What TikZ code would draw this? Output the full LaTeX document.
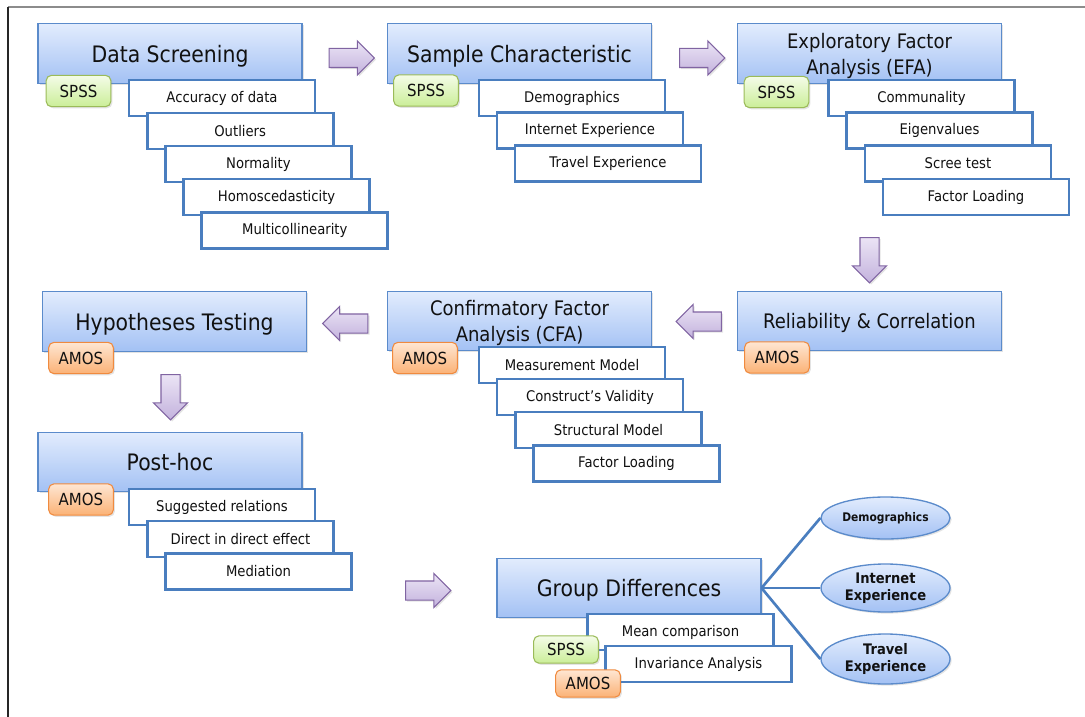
\documentclass[tikz,border=0pt]{standalone}
\usepackage{fontspec}
\setmainfont{DejaVu Sans}[FakeStretch=0.9]
\usetikzlibrary{shapes.geometric,shapes.arrows,shadows}

\definecolor{boxtop}{HTML}{E2ECFD}
\definecolor{boxbot}{HTML}{A3C1F4}
\definecolor{mainborder}{HTML}{5B8BCB}
\definecolor{subborder}{HTML}{4A7EBF}
\definecolor{spsstop}{HTML}{F4FCE8}
\definecolor{spssbot}{HTML}{CBEE98}
\definecolor{spssborder}{HTML}{9BBB59}
\definecolor{amostop}{HTML}{FEE6D2}
\definecolor{amosbot}{HTML}{FBB276}
\definecolor{amosborder}{HTML}{F08A3E}
\definecolor{arrowtop}{HTML}{EBE4F5}
\definecolor{arrowbot}{HTML}{C3B2DD}
\definecolor{arrowborder}{HTML}{8064A2}
\definecolor{textcol}{HTML}{111111}

\begin{document}
\begin{tikzpicture}[x=0.75pt,y=-0.75pt,
  softshadow/.style={drop shadow={opacity=0.22,shadow xshift=1.2pt,shadow yshift=-1.2pt}},
  mainbox/.style={rectangle,draw=mainborder,line width=0.8pt,top color=boxtop,bottom color=boxbot,
    minimum width=198pt,minimum height=44.5pt,inner sep=0pt,align=center,text=textcol,
    text depth=0pt,font=\fontsize{17}{20}\selectfont,softshadow},
  twoline/.style={font=\fontsize{15}{19.5}\selectfont},
  subbox/.style={rectangle,draw=subborder,line width=2pt,fill=white,
    minimum width=139.5pt,minimum height=27pt,inner sep=0pt,text=textcol,
    font=\fontsize{11}{13}\selectfont},
  tag/.style={rectangle,rounded corners=4pt,line width=0.8pt,minimum width=48.5pt,
    minimum height=23.5pt,inner sep=0pt,text=textcol,font=\fontsize{12.5}{14}\selectfont,softshadow},
  smalltag/.style={minimum height=20.5pt},
  spss/.style={tag,draw=spssborder,top color=spsstop,bottom color=spssbot},
  amos/.style={tag,draw=amosborder,top color=amostop,bottom color=amosbot},
  blockarrow/.style={single arrow,draw=arrowborder,line width=0.8pt,top color=arrowtop,
    bottom color=arrowbot,minimum height=34pt,inner xsep=0pt,inner ysep=6.75pt,
    single arrow head extend=5.6pt,single arrow tip angle=90,softshadow},
  downarrow/.style={blockarrow,shape border rotate=270,inner xsep=6.75pt,inner ysep=0pt},
  leftarrow/.style={blockarrow,shape border rotate=180},
  oval/.style={ellipse,draw=mainborder,line width=1pt,top color=boxtop,bottom color=boxbot,
    minimum width=96.75pt,inner sep=0pt,align=center,text=textcol,softshadow,
    font=\bfseries\fontsize{10.9}{13}\selectfont},
  link/.style={draw=subborder,line width=2pt}]

\useasboundingbox (0,0) rectangle (1085,717);

% page frame
\draw[black!45,line width=1pt] (8,7) -- (1085,7);
\draw[black!85,line width=1.4pt] (8,7) -- (8,717);

% ---- Data Screening
\node[mainbox] (ds) at (170,53.5) {Data Screening};
\node[spss] (dsT) at (78.5,91) {SPSS};
\node[subbox] (ds1) at (222,98) {Accuracy of data};
\node[subbox] (ds2) at (240.2,131) {Outliers};
\node[subbox] (ds3) at (258.4,164) {Normality};
\node[subbox] (ds4) at (276.6,197) {Homoscedasticity};
\node[subbox] (ds5) at (294.8,230.5) {Multicollinearity};

% ---- Sample Characteristic
\node[mainbox] (sc) at (519.5,53.5) {Sample Characteristic};
\node[spss] (scT) at (426,90.5) {SPSS};
\node[subbox] (sc1) at (572,98) {Demographics};
\node[subbox] (sc2) at (590,130.5) {Internet Experience};
\node[subbox] (sc3) at (608,163.5) {Travel Experience};

% ---- Exploratory Factor Analysis
\node[mainbox,twoline] (efa) at (869.5,53.5) {Exploratory Factor\\Analysis (EFA)};
\node[spss] (efaT) at (776.5,92) {SPSS};
\node[subbox] (efa1) at (921.5,98) {Communality};
\node[subbox] (efa2) at (939.5,130.5) {Eigenvalues};
\node[subbox] (efa3) at (958,163.5) {Scree test};
\node[subbox] (efa4) at (976,197) {Factor Loading};

% ---- Reliability & Correlation
\node[mainbox,twoline] (rel) at (869.5,321) {Reliability \& Correlation};
\node[amos] (relT) at (777,357.5) {AMOS};

% ---- Confirmatory Factor Analysis
\node[mainbox,twoline] (cfa) at (519.5,321) {Confirmatory Factor\\Analysis (CFA)};
\node[amos] (cfaT) at (425,358) {AMOS};
\node[subbox] (cfa1) at (572,365) {Measurement Model};
\node[subbox] (cfa2) at (590,397) {Construct’s Validity};
\node[subbox] (cfa3) at (608.5,430) {Structural Model};
\node[subbox] (cfa4) at (626.5,463.5) {Factor Loading};

% ---- Hypotheses Testing
\node[mainbox] (hyp) at (174.5,321.5) {Hypotheses Testing};
\node[amos] (hypT) at (81,358) {AMOS};

% ---- Post-hoc
\node[mainbox] (ph) at (170,462) {Post-hoc};
\node[amos] (phT) at (81,499.5) {AMOS};
\node[subbox] (ph1) at (222,507) {Suggested relations};
\node[subbox] (ph2) at (240.5,539) {Direct in direct effect};
\node[subbox] (ph3) at (258.5,571.5) {Mediation};

% ---- Group Differences
\node[mainbox] (gd) at (629,588) {Group Differences};
\node[subbox] (gd1) at (680.5,632) {Mean comparison};
\node[subbox] (gd2) at (698.5,664) {Invariance Analysis};
\node[spss,smalltag] (gdS) at (566,649.5) {SPSS};
\node[amos,smalltag] (gdA) at (588,683.5) {AMOS};

% groups compared
\node[oval,minimum height=31.5pt,font=\bfseries\fontsize{8.9}{11}\selectfont] (g1) at (885.5,518) {Demographics};
\node[oval,minimum height=36pt] (g2) at (885.5,588) {Internet\\Experience};
\node[oval,minimum height=37.5pt] (g3) at (885.5,659) {Travel\\Experience};
\draw[link] (gd.east) -- (g1.west);
\draw[link] (gd.east) -- (g2.west);
\draw[link] (gd.east) -- (g3.west);

% ---- flow arrows between stages
\node[blockarrow] (a1) at (347,58) {};
\node[blockarrow] (a2) at (697.5,58) {};
\node[downarrow] (a3) at (869.5,255.5) {};
\node[leftarrow] (a4) at (703.5,321.5) {};
\node[leftarrow] (a5) at (350,323.5) {};
\node[downarrow] (a6) at (170.5,392.5) {};
\node[blockarrow] (a7) at (423.5,590.5) {};

\end{tikzpicture}
\end{document}
